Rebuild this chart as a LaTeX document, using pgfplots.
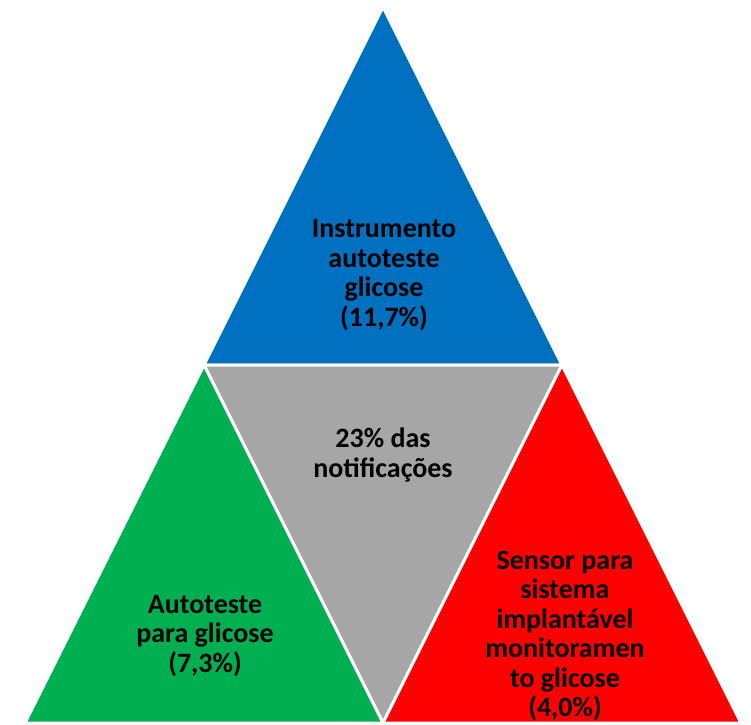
\documentclass[border=0pt]{standalone}
\usepackage{pgfplots}
\pgfplotsset{compat=1.18}
\usepackage{fontspec}
\setmainfont{Carlito}
\definecolor{cblue}{HTML}{0070C0}
\definecolor{cgray}{HTML}{A6A6A6}
\definecolor{cgreen}{HTML}{00B050}
\definecolor{cred}{HTML}{FF0000}
\begin{document}
\begin{tikzpicture}
\begin{axis}[name=ax, scale only axis, width=751bp, height=725bp,
  xmin=0, xmax=751, ymin=0, ymax=725, y dir=reverse,
  axis lines=none, clip=false,
  every axis plot/.append style={draw=white, line width=3bp, line join=round}]
\addplot[fill=cblue] coordinates {(383,7) (204,365) (562,365)} -- cycle;
\addplot[fill=cgray] coordinates {(204,365) (562,365) (383,723)} -- cycle;
\addplot[fill=cgreen] coordinates {(204,365) (25,723) (383,723)} -- cycle;
\addplot[fill=cred] coordinates {(562,365) (383,723) (741,723)} -- cycle;
\tikzset{lbl/.style={align=center, text=black, inner sep=0pt, font=\bfseries\fontsize{28bp}{29.5bp}\selectfont}}
\node[lbl] at (axis cs:384,275) {Instrumento\\autoteste\\glicose\\(11,7\%)};
\node[lbl] at (axis cs:383,455) {23\% das\\notificações};
\node[lbl] at (axis cs:205,636) {Autoteste\\para glicose\\(7,3\%)};
\node[lbl] at (axis cs:565,636) {Sensor para\\sistema\\implantável\\monitoramen\\to glicose\\(4,0\%)};
\end{axis}
\pgfresetboundingbox
\path (ax.south west) rectangle (ax.north east);
\end{tikzpicture}
\end{document}
